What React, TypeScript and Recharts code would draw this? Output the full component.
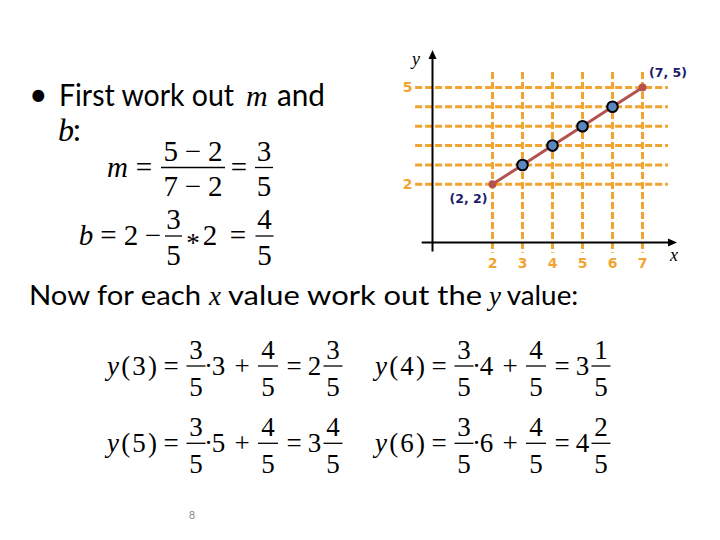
import React from 'react';
import { ComposedChart, Line, XAxis, YAxis, ReferenceLine } from 'recharts';

// ---- chart data ----
const xTicks = [2, 3, 4, 5, 6, 7];
const yTicks = [2, 5];
const gridY = [2, 2.6, 3.2, 3.8, 4.4, 5];
const pointX = [2, 3, 4, 5, 6, 7];
const pointY = [2, 2.6, 3.2, 3.8, 4.4, 5];
const pointLabels = ['(2, 2)', '', '', '', '', '(7, 5)'];

// ---- worked-example text ----
const eqArgs = ['3', '4', '5', '6'];
const eqWhole = ['2', '3', '3', '4'];
const eqNum = ['3', '1', '4', '2'];

const ORANGE = '#F2A430';
const LINEC = '#B5524E';
const BLUE = '#5B86C0';
const NAVY = '#1C1C6B';
const SERIF = '"Liberation Serif", "Times New Roman", Times, "DejaVu Serif", serif';
const SANS = 'Lato, "Open Sans", sans-serif';
const BOLD = '"DejaVu Sans", Verdana, sans-serif';

const serifStyle = (italic = false): React.CSSProperties => ({
  fontFamily: SERIF,
  fontStyle: italic ? 'italic' : 'normal',
});
const sansStyle: React.CSSProperties = { fontFamily: SANS };

const data = pointX.map((x, i) => ({ x, y: pointY[i], label: pointLabels[i] }));

const XTick = (p: any) => (
  <text x={p.x} y={p.y} dy={11} textAnchor="middle" fill={ORANGE} style={{ fontFamily: BOLD }} fontWeight="bold" fontSize={14}>
    {p.payload.value}
  </text>
);
const YTick = (p: any) => (
  <text x={p.x + 5} y={p.y} dy={5} textAnchor="middle" fill={ORANGE} style={{ fontFamily: BOLD }} fontWeight="bold" fontSize={14}>
    {p.payload.value}
  </text>
);

const arrowShape = (label: string, dx: number, dy: number) => (p: any) => {
  const { x1, y1, x2, y2 } = p;
  const ang = Math.atan2(y2 - y1, x2 - x1);
  const L = 9;
  const W = 4;
  const bx = x2 - L * Math.cos(ang);
  const by = y2 - L * Math.sin(ang);
  const px = -Math.sin(ang) * W;
  const py = Math.cos(ang) * W;
  return (
    <g>
      <line x1={x1} y1={y1} x2={bx} y2={by} stroke="#000" strokeWidth={2} />
      <polygon points={`${x2},${y2} ${bx + px},${by + py} ${bx - px},${by - py}`} fill="#000" />
      <text x={x2 + dx} y={y2 + dy} dy="0.3em" textAnchor="middle" style={serifStyle(true)} fontSize={18} fill="#000">
        {label}
      </text>
    </g>
  );
};

const Dot = (p: any) => {
  const { cx, cy, index, payload } = p;
  const end = index === 0 || index === data.length - 1;
  if (end) {
    const left = index === 0;
    return (
      <g key={`d-${index}`}>
        <circle cx={cx} cy={cy} r={4} fill={LINEC} />
        <text
          x={cx + (left ? -24 : 25.5)}
          y={cy + (left ? 14 : -14.7)}
          dy="0.35em"
          textAnchor="middle"
          style={{ fontFamily: BOLD }}
          fontWeight="bold"
          fontSize={12.5}
          fill={NAVY}
        >
          {payload.label}
        </text>
      </g>
    );
  }
  return <circle key={`d-${index}`} cx={cx} cy={cy} r={5.3} fill={BLUE} stroke="#000" strokeWidth={2} />;
};

// ---- math helpers ----
const T = ({ x, y, size, anchor = 'middle', italic = false, len, children }: any) => (
  <text
    x={x}
    y={y}
    style={serifStyle(italic)}
    fontSize={size}
    textAnchor={anchor}
    textLength={len}
    lengthAdjust={len ? 'spacing' : undefined}
    fill="#000"
  >
    {children}
  </text>
);

const Frac = ({ cx, bar, w, num, den, size, len, denOff }: any) => (
  <g>
    <T x={cx} y={bar - 7} size={size} len={len}>{num}</T>
    <line x1={cx - w / 2} x2={cx + w / 2} y1={bar} y2={bar} stroke="#000" strokeWidth={1.3} />
    <T x={cx} y={bar + denOff} size={size} len={len}>{den}</T>
  </g>
);

const EqRow = ({ idx, ox, bar }: any) => {
  const s = 27;
  const b = bar + 9;
  return (
    <g>
      <text x={ox} y={b} style={serifStyle(false)} fontSize={s} textLength={50} lengthAdjust="spacing" fill="#000">
        <tspan style={serifStyle(true)}>y</tspan>({eqArgs[idx]})
      </text>
      <T x={ox + 64} y={b} size={s}>=</T>
      <Frac cx={ox + 89} bar={bar} w={19} num="3" den="5" size={s} denOff={30} />
      <T x={ox + 101.5} y={b} size={s}>·</T>
      <T x={ox + 111.5} y={b} size={s}>{eqArgs[idx]}</T>
      <T x={ox + 135} y={b} size={s}>+</T>
      <Frac cx={ox + 161} bar={bar} w={20} num="4" den="5" size={s} denOff={30} />
      <T x={ox + 187} y={b} size={s}>=</T>
      <T x={ox + 207.5} y={b} size={s}>{eqWhole[idx]}</T>
      <Frac cx={ox + 226} bar={bar} w={19} num={eqNum[idx]} den="5" size={s} denOff={30} />
    </g>
  );
};

export default function App() {
  return (
    <div style={{ position: 'fixed', left: 0, top: 0, width: 720, height: 540, background: '#fff', overflow: 'hidden' }}>
      <div style={{ position: 'absolute', left: 0, top: 0 }}>
        <ComposedChart width={720} height={540} data={data} margin={{ top: 39, right: 32.5, bottom: 253, left: 342.5 }}>
          <XAxis
            type="number"
            dataKey="x"
            domain={[-1, 8.5]}
            ticks={xTicks}
            interval={0}
            allowDataOverflow
            axisLine={false}
            tickLine={false}
            tickSize={0}
            tickMargin={0}
            height={30}
            tick={XTick}
          />
          <YAxis
            type="number"
            domain={[-0.25, 6.5]}
            ticks={yTicks}
            interval={0}
            allowDataOverflow
            axisLine={false}
            tickLine={false}
            tickSize={0}
            tickMargin={0}
            width={60}
            tick={YTick}
          />
          {gridY.map((v) => (
            <ReferenceLine
              key={`h-${v}`}
              segment={[{ x: -0.58, y: v }, { x: 7.85, y: v }]}
              stroke={ORANGE}
              strokeWidth={3}
              strokeDasharray="7 3"
            />
          ))}
          {xTicks.map((v) => (
            <ReferenceLine
              key={`v-${v}`}
              segment={[{ x: v, y: 5.48 }, { x: v, y: -0.12 }]}
              stroke={ORANGE}
              strokeWidth={3}
              strokeDasharray="7 3"
            />
          ))}
          <ReferenceLine segment={[{ x: -0.36, y: 0.2 }, { x: 8.15, y: 0.2 }]} shape={arrowShape('x', -3, 13)} />
          <ReferenceLine segment={[{ x: 0, y: -0.08 }, { x: 0, y: 6.16 }]} shape={arrowShape('y', -16.5, 10)} />
          <Line
            type="linear"
            dataKey="y"
            stroke={LINEC}
            strokeWidth={3}
            dot={Dot}
            activeDot={false}
            isAnimationActive={false}
          />
        </ComposedChart>
      </div>
      <svg width={720} height={540} style={{ position: 'absolute', left: 0, top: 0, pointerEvents: 'none' }}>
        {/* bullet text */}
        <text x={38.3} y={106} textAnchor="middle" style={sansStyle} fontSize={32} fill="#000">•</text>
        <text x={59} y={106.3} style={sansStyle} fontSize={31} textLength={175} lengthAdjust="spacingAndGlyphs" fill="#000">First work out</text>
        <text x={246} y={106.3} style={serifStyle(true)} fontSize={30} fill="#000">m</text>
        <text x={277} y={106.3} style={sansStyle} fontSize={31} textLength={48} lengthAdjust="spacingAndGlyphs" fill="#000">and</text>
        <text x={58} y={141.3} style={serifStyle(true)} fontSize={32} fill="#000">b</text>
        <text x={73} y={141.3} style={sansStyle} fontSize={31} fill="#000">:</text>

        {/* m row */}
        <T x={117.5} y={176.5} size={29} italic>m</T>
        <T x={144} y={176.5} size={29}>=</T>
        <Frac cx={193} bar={167.5} w={64} num="5−2" den="7−2" size={29} len={59} denOff={28.5} />
        <T x={239} y={176.5} size={29}>=</T>
        <Frac cx={264} bar={167.5} w={18} num="3" den="5" size={29} denOff={28.5} />

        {/* b row */}
        <T x={86} y={244.5} size={29} italic>b</T>
        <T x={108.5} y={244.5} size={29}>=</T>
        <T x={131} y={244.5} size={29}>2</T>
        <T x={153} y={244.5} size={29}>−</T>
        <Frac cx={173.5} bar={236} w={17} num="3" den="5" size={29} denOff={28.5} />
        <T x={193} y={252} size={27}>*</T>
        <T x={210} y={244.5} size={29}>2</T>
        <T x={238} y={244.5} size={29}>=</T>
        <Frac cx={264.5} bar={236} w={18} num="4" den="5" size={29} denOff={28.5} />

        {/* Now for each ... */}
        <text x={29} y={304.7} style={sansStyle} fontSize={26} textLength={172} lengthAdjust="spacingAndGlyphs" fill="#000">Now for each</text>
        <text x={209} y={304.7} style={serifStyle(true)} fontSize={27} fill="#000">x</text>
        <text x={228} y={304.7} style={sansStyle} fontSize={26} textLength={254} lengthAdjust="spacingAndGlyphs" fill="#000">value work out the</text>
        <text x={489} y={304.7} style={serifStyle(true)} fontSize={27} fill="#000">y</text>
        <text x={506.7} y={304.7} style={sansStyle} fontSize={26} textLength={71.6} lengthAdjust="spacingAndGlyphs" fill="#000">value:</text>

        <EqRow idx={0} ox={107} bar={366} />
        <EqRow idx={1} ox={375} bar={366} />
        <EqRow idx={2} ox={107} bar={443.3} />
        <EqRow idx={3} ox={375} bar={443.3} />

        <text x={192} y={519} textAnchor="middle" style={sansStyle} fontSize={11} fill="#8C8C8C">8</text>
      </svg>
    </div>
  );
}
